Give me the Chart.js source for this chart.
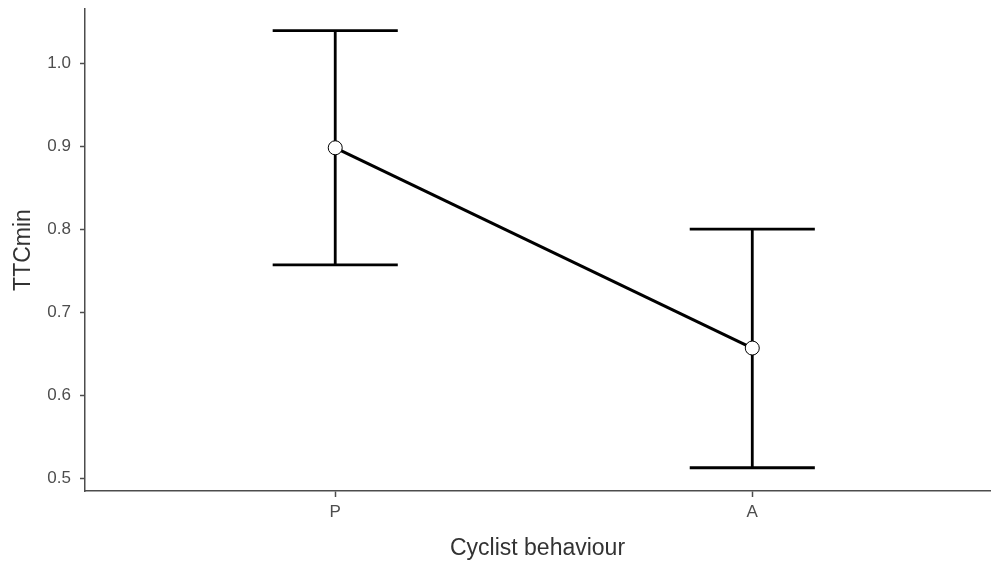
<!DOCTYPE html>
<html>
<head>
<meta charset="utf-8">
<script src="https://cdn.jsdelivr.net/npm/chart.js@4"></script>
<style>
  body { margin: 0; background: #fff; }
  canvas { display: block; }
</style>
</head>
<body>
<canvas id="ttcChart" width="992" height="562"></canvas>
<script>
const categories = ['P', 'A'];
const means = [0.898, 0.657];
const upper = [1.039, 0.800];
const lower = [0.757, 0.513];
const yTicks = [0.5, 0.6, 0.7, 0.8, 0.9, 1.0];

const fontFamily = '"Liberation Sans", Arial, sans-serif';
const axisColor = '#4d4d4d';

// error bars are drawn under the points
const errorBars = {
    id: 'errorBars',
    beforeDatasetsDraw(chart) {
        const { ctx, scales: { x, y } } = chart;
        const half = 0.15;
        ctx.save();
        ctx.strokeStyle = '#000';
        ctx.lineWidth = 2.8;
        ctx.lineCap = 'butt';
        categories.forEach((c, i) => {
            const px = x.getPixelForValue(i + 1);
            const x0 = x.getPixelForValue(i + 1 - half);
            const x1 = x.getPixelForValue(i + 1 + half);
            const yt = y.getPixelForValue(upper[i]);
            const yb = y.getPixelForValue(lower[i]);
            ctx.beginPath();
            ctx.moveTo(px, yt);
            ctx.lineTo(px, yb);
            ctx.moveTo(x0, yt);
            ctx.lineTo(x1, yt);
            ctx.moveTo(x0, yb);
            ctx.lineTo(x1, yb);
            ctx.stroke();
        });
        ctx.restore();
    }
};

new Chart(document.getElementById('ttcChart'), {
    type: 'line',
    data: {
        datasets: [{
            data: means.map((m, i) => ({ x: i + 1, y: m })),
            borderColor: '#000',
            borderWidth: 3,
            pointRadius: 7,
            pointBackgroundColor: '#fff',
            pointBorderColor: '#000',
            pointBorderWidth: 1,
            tension: 0
        }]
    },
    options: {
        responsive: false,
        animation: false,
        layout: { autoPadding: false, padding: { top: 9, right: 2, left: 0, bottom: 0 } },
        plugins: { legend: { display: false }, tooltip: { enabled: false } },
        scales: {
            x: {
                type: 'linear',
                min: 0.4,
                max: 2.57,
                afterBuildTicks(scale) {
                    scale.ticks = categories.map((c, i) => ({ value: i + 1 }));
                },
                afterFit(scale) {
                    scale.height = 71;
                    scale.paddingLeft = 0;
                    scale.paddingRight = 0;
                },
                ticks: {
                    callback: (v) => categories[v - 1],
                    color: axisColor,
                    font: { family: fontFamily, size: 17 },
                    padding: 5,
                    maxRotation: 0
                },
                grid: { drawOnChartArea: false, tickLength: 6, tickWidth: 1.5, tickColor: axisColor },
                border: { color: axisColor, width: 1.5 },
                title: {
                    display: true,
                    text: 'Cyclist behaviour',
                    color: '#333',
                    font: { family: fontFamily, size: 23 },
                    padding: { top: 4, bottom: 0 }
                }
            },
            y: {
                min: 0.485,
                max: 1.065,
                afterBuildTicks(scale) {
                    scale.ticks = yTicks.map(v => ({ value: v }));
                },
                afterFit(scale) {
                    scale.width = 85;
                    scale.paddingTop = 0;
                    scale.paddingBottom = 0;
                },
                ticks: {
                    callback: (v) => v.toFixed(1),
                    color: axisColor,
                    font: { family: fontFamily, size: 17 },
                    padding: 9
                },
                grid: { drawOnChartArea: false, tickLength: 5, tickWidth: 1.5, tickColor: axisColor },
                border: { color: axisColor, width: 1.5 },
                title: {
                    display: true,
                    text: 'TTCmin',
                    color: '#333',
                    font: { family: fontFamily, size: 23 },
                    padding: { top: 10, bottom: 0 }
                }
            }
        }
    },
    plugins: [errorBars]
});
</script>
</body>
</html>
